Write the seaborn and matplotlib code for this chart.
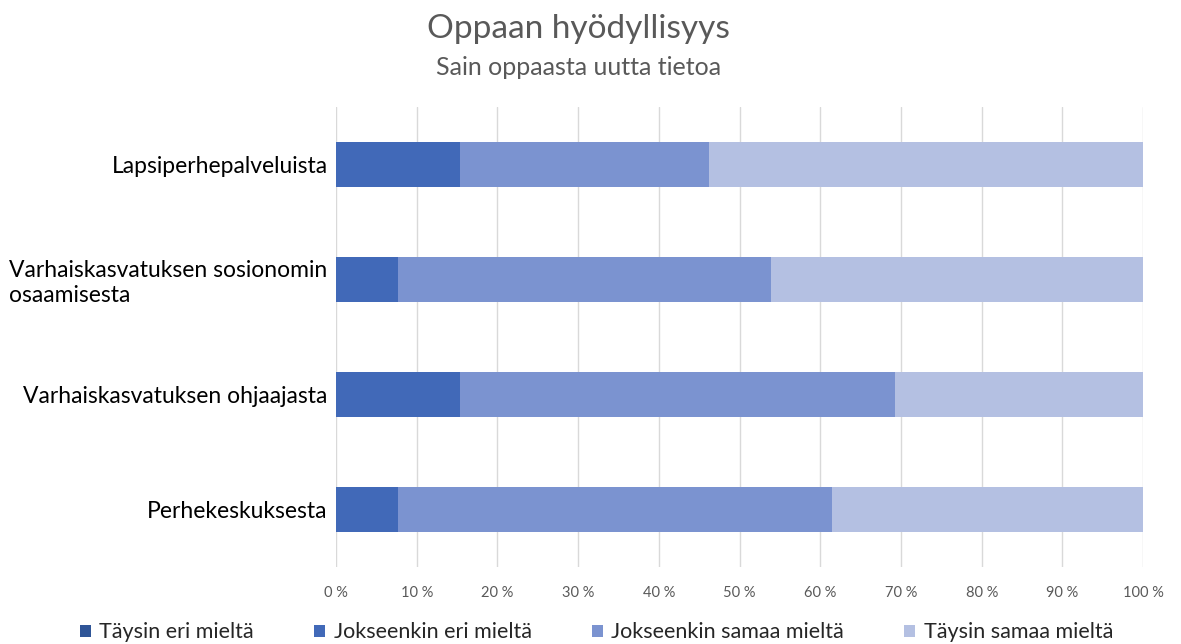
import matplotlib
matplotlib.use("Agg")
import matplotlib.pyplot as plt
import seaborn as sns
import pandas as pd
import numpy as np
from matplotlib.patches import Patch
from matplotlib.ticker import FuncFormatter

categories = ["Lapsiperhepalveluista",
              "Varhaiskasvatuksen sosionomin\nosaamisesta",
              "Varhaiskasvatuksen ohjaajasta",
              "Perhekeskuksesta"]
series_names = ["Täysin eri mieltä", "Jokseenkin eri mieltä",
                "Jokseenkin samaa mieltä", "Täysin samaa mieltä"]
taysin_eri = [0.0, 0.0, 0.0, 0.0]
jokseenkin_eri = [15.4, 7.7, 15.4, 7.7]
jokseenkin_samaa = [30.8, 46.2, 53.8, 53.8]
taysin_samaa = [53.8, 46.1, 30.8, 38.5]
colors = ["#2F5597", "#4169B8", "#7B93D0", "#B4C0E2"]

sns.set_theme(style="white")
plt.rcParams['font.family'] = ['Lato', 'DejaVu Sans']

fig = plt.figure(figsize=(11.81, 6.44), dpi=100)
ax = fig.add_axes([0.2845, 0.1196, 0.6835, 0.7144])

vals = np.array([taysin_eri, jokseenkin_eri, jokseenkin_samaa, taysin_samaa])
cum = np.cumsum(vals, axis=0)
for i in range(3, -1, -1):
    df = pd.DataFrame({"cat": categories, "val": cum[i]})
    sns.barplot(data=df, y="cat", x="val", color=colors[i], orient="h",
                width=0.39, ax=ax, saturation=1, edgecolor="none")

ax.set_xlim(0, 100)
ax.set_xticks(np.arange(0, 101, 10))
ax.xaxis.set_major_formatter(FuncFormatter(lambda v, p: f"{int(v)} %"))
ax.grid(axis="x", color="#D9D9D9", linewidth=1)
ax.set_axisbelow(True)
for s in ax.spines.values():
    s.set_visible(False)
ax.set_xlabel("")
ax.set_ylabel("")
ax.tick_params(axis="x", labelsize=10.5, labelcolor="#595959", length=0, pad=14)
ax.tick_params(axis="y", labelsize=16.5, labelcolor="#000000", length=0, pad=6)
for lab in ax.get_yticklabels():
    lab.set_horizontalalignment("right")
    lab.set_multialignment("left")

fig.text(0.4895, 0.955, "Oppaan hyödyllisyys", ha="center", va="center",
         fontsize=24, color="#595959")
fig.text(0.4895, 0.895, "Sain oppaasta uutta tietoa", ha="center", va="center",
         fontsize=18, color="#595959")

handles = [Patch(facecolor=c, edgecolor="none") for c in colors]
fig.legend(handles, series_names, loc="center", bbox_to_anchor=(0.505, 0.018),
           ncol=4, frameon=False, fontsize=15.5, handlelength=0.5, handleheight=0.5,
           handletextpad=0.4, columnspacing=2.8)

fig.savefig("out.png", dpi=100)
